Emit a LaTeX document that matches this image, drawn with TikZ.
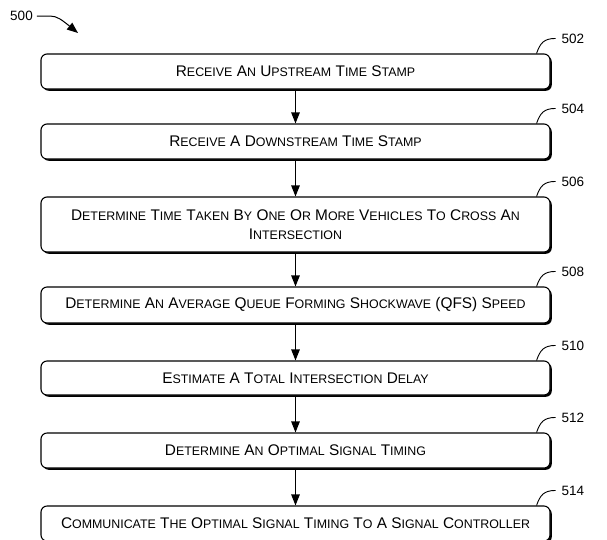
\documentclass[tikz,border=0pt]{standalone}
\usepackage{fontspec}
\setmainfont{Liberation Sans}
\usetikzlibrary{arrows.meta,shadows}
\newcommand\bigfont{\fontsize{15.4}{19}\selectfont}
\newcommand\scfont{\fontsize{12.4}{19}\selectfont}
\def\scwx#1#2\relax{#1{\scfont #2}}
\newcommand\scw[1]{\scwx#1\relax}
\tikzset{
  stepbox/.style={draw, line width=1.1pt, rounded corners=6pt, fill=white,
    minimum width=509pt, inner sep=0pt, align=center, font=\bigfont,
    drop shadow={shadow xshift=1.8pt, shadow yshift=-1.8pt, fill=black, opacity=1}},
  flow/.style={line width=1.2pt, -{Triangle[length=11pt,width=8.5pt]}},
  leadline/.style={line width=0.9pt},
  reflabel/.style={font=\fontsize{13.5}{16}\selectfont, right, inner sep=0pt, xshift=5.5pt}
}
\newcommand\leader[2]{%
  \draw[leadline] ([xshift=-14pt]#1.north east)
    .. controls ([shift={(-10.5pt,10pt)}]#1.north east) and ([shift={(-7pt,15pt)}]#1.north east)
    .. ([shift={(5pt,15pt)}]#1.north east) node[reflabel] (#1lab) {#2};}
\begin{document}
\begin{tikzpicture}[x=1pt,y=-1pt]
\useasboundingbox (0,0) rectangle (607,539);

\node[stepbox, minimum height=35pt] (b502) at (295.5,71.5)
  {\scw{RECEIVE} \scw{AN} \scw{UPSTREAM} \scw{TIME} \scw{STAMP}};
\node[stepbox, minimum height=35pt] (b504) at (295.5,141.5)
  {\scw{RECEIVE} \scw{A} \scw{DOWNSTREAM} \scw{TIME} \scw{STAMP}};
\node[stepbox, minimum height=55pt] (b506) at (295.5,224.5)
  {\scw{DETERMINE} \scw{TIME} \scw{TAKEN} \scw{BY} \scw{ONE} \scw{OR} \scw{MORE} \scw{VEHICLES} \scw{TO} \scw{CROSS} \scw{AN}\\ \scw{INTERSECTION}};
\node[stepbox, minimum height=36pt] (b508) at (295.5,305)
  {\scw{DETERMINE} \scw{AN} \scw{AVERAGE} \scw{QUEUE} \scw{FORMING} \scw{SHOCKWAVE} (QFS) \scw{SPEED}};
\node[stepbox, minimum height=34pt] (b510) at (295.5,378)
  {\scw{ESTIMATE} \scw{A} \scw{TOTAL} \scw{INTERSECTION} \scw{DELAY}};
\node[stepbox, minimum height=35pt] (b512) at (295.5,450.5)
  {\scw{DETERMINE} \scw{AN} \scw{OPTIMAL} \scw{SIGNAL} \scw{TIMING}};
\node[stepbox, minimum height=35pt] (b514) at (295.5,523.5)
  {\scw{COMMUNICATE} \scw{THE} \scw{OPTIMAL} \scw{SIGNAL} \scw{TIMING} \scw{TO} \scw{A} \scw{SIGNAL} \scw{CONTROLLER}};

\draw[flow] (b502) -- (b504);
\draw[flow] (b504) -- (b506);
\draw[flow] (b506) -- (b508);
\draw[flow] (b508) -- (b510);
\draw[flow] (b510) -- (b512);
\draw[flow] (b512) -- (b514);

\leader{b502}{502}
\leader{b504}{504}
\leader{b506}{506}
\leader{b508}{508}
\leader{b510}{510}
\leader{b512}{512}
\leader{b514}{514}

\node[font=\fontsize{13.5}{16}\selectfont, inner sep=0pt] (l500) at (21.5,16) {500};
\coordinate (t500) at (78,33);
\draw[line width=1pt, -{Triangle[length=11pt,width=8.5pt]}] ([xshift=4pt]l500.east) -- (50,16)
  .. controls (57,16) and (62,20) .. (t500);
\end{tikzpicture}
\end{document}
